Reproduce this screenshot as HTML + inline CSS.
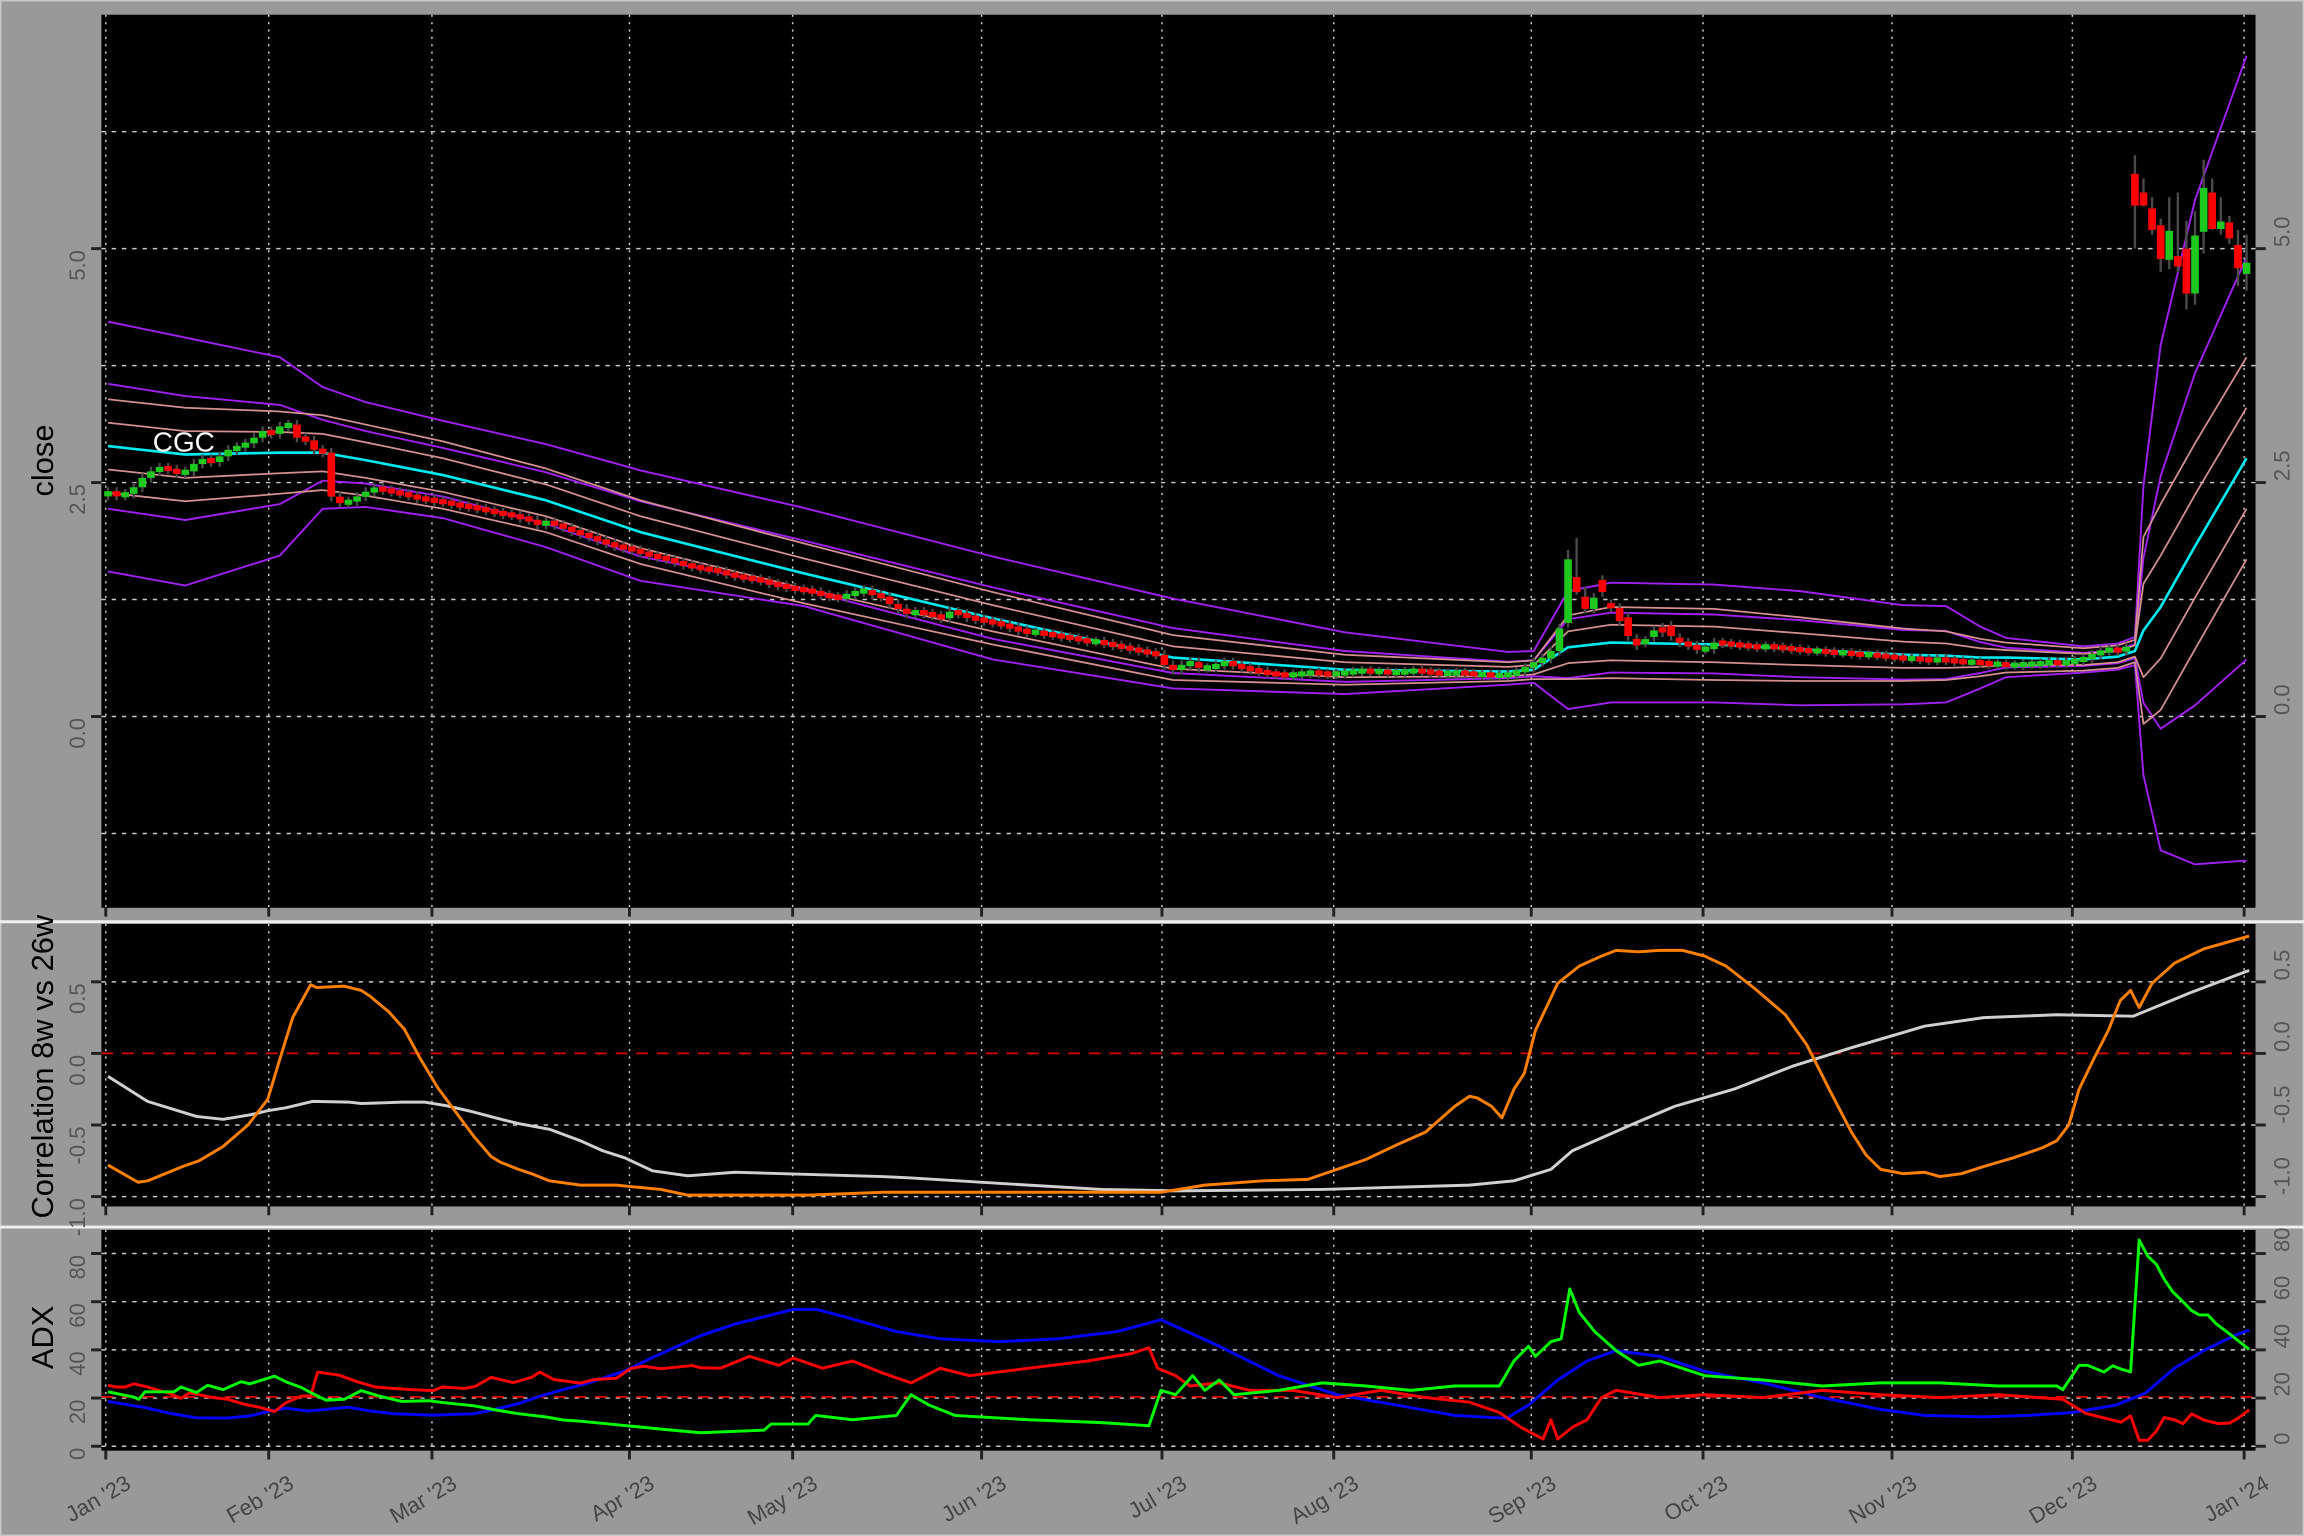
<!DOCTYPE html>
<html><head><meta charset="utf-8"><title>CGC chart</title>
<style>
html,body{margin:0;padding:0;background:#999999;}
svg{display:block;font-family:"Liberation Sans",sans-serif;}
</style></head>
<body>
<svg id="chart" xmlns="http://www.w3.org/2000/svg" width="2304" height="1536" viewBox="0 0 1568 1044" preserveAspectRatio="none">
  <rect x="0" y="0" width="1568" height="1044" fill="#999999"/>
  <rect x="0.5" y="0.5" width="1567" height="1043" fill="none" stroke="#c8c8c8" stroke-width="1"/>
  <defs>
    <clipPath id="clipMain"><rect x="69" y="10" width="1466" height="607"/></clipPath>
    <clipPath id="clipCor"><rect x="69" y="628" width="1466" height="192"/></clipPath>
    <clipPath id="clipAdx"><rect x="69" y="836" width="1466" height="150"/></clipPath>
  </defs>
  <rect x="69" y="10" width="1466" height="607" fill="#000"/>
  <line x1="0" y1="626.5" x2="1568" y2="626.5" stroke="#f0f0f0" stroke-width="2"/>
  <rect x="69" y="628" width="1466" height="192" fill="#000"/>
  <line x1="0" y1="834" x2="1568" y2="834" stroke="#f0f0f0" stroke-width="2"/>
  <rect x="69" y="836" width="1466" height="150" fill="#000"/>
  <g id="gGrid"></g>
  <g id="gMain" clip-path="url(#clipMain)"></g>
  <g id="gCor" clip-path="url(#clipCor)"></g>
  <g id="gAdx" clip-path="url(#clipAdx)"></g>
  <g id="gAxes"></g>
  <text x="104" y="307" fill="#fff" font-size="19">CGC</text>
  <text transform="translate(36,313) rotate(-90)" text-anchor="middle" font-size="21" fill="#000">close</text>
  <text transform="translate(36,725) rotate(-90)" text-anchor="middle" font-size="21" fill="#000">Correlation 8w vs 26w</text>
  <text transform="translate(36,909) rotate(-90)" text-anchor="middle" font-size="21" fill="#000">ADX</text>
</svg>
<script>
// ---------- DATA ----------
const monthTickIdx = [0,20,39,62,81,103,124,144,167,187,209,230,250];
const monthTickLabels = ["Jan '23","Feb '23","Mar '23","Apr '23","May '23","Jun '23","Jul '23","Aug '23","Sep '23","Oct '23","Nov '23","Dec '23","Jan '24"];

const closes = [
2.40,2.36,2.38,2.45, 2.55,2.62,2.66,2.64,2.60, 2.62,2.70,2.75,2.72, 2.78,2.85,2.88,2.92,2.98, 3.05,3.02,
3.10,3.12,2.98, 2.95,2.85,2.82,2.35,2.28, 2.30,2.35,2.40,2.44,2.42, 2.40,2.38,2.36,2.33, 2.32,2.30,
2.29,2.27,2.25, 2.24,2.22,2.20,2.18,2.16, 2.15,2.12,2.10,2.05,2.08, 2.05,2.02,1.98,1.95,1.92, 1.88,1.85,1.82,1.80,1.78,
1.75,1.72,1.70,1.68, 1.65,1.62,1.60,1.58,1.57, 1.55,1.52,1.50,1.48,1.47, 1.45,1.42,1.40,1.38,1.36,
1.35,1.33,1.30,1.28,1.27, 1.30,1.33,1.35,1.30,1.28, 1.20,1.15,1.10,1.12,1.10, 1.08,1.05,1.12,1.10,1.06, 1.04,1.02,
1.00,0.98, 0.95,0.92,0.90,0.90,0.88, 0.87,0.85,0.84,0.82,0.80, 0.80,0.78,0.76,0.74, 0.72,0.70,0.68,0.66,0.55,
0.50, 0.55,0.58,0.52, 0.52,0.55,0.58,0.55,0.52, 0.50,0.48,0.46,0.45,0.44, 0.45,0.46,0.47,0.46,0.45, 0.46,
0.47,0.48,0.49,0.48, 0.48,0.47,0.47,0.48,0.49, 0.48,0.47,0.46,0.46,0.47, 0.46,0.45,0.45,0.44,0.44, 0.45,0.48,0.52,0.58,
0.62, 0.70,0.94,1.68,1.33, 1.15,1.27,1.33,1.17,1.02, 0.86,0.76,0.81,0.92,0.90, 0.86,0.79,0.76,0.72,0.72,
0.79,0.78,0.77,0.76,0.75, 0.74,0.75,0.74,0.73,0.72, 0.71,0.70,0.70,0.69,0.68, 0.68,0.67,0.66,0.66,0.65, 0.64,0.63,
0.62,0.62,0.61, 0.60,0.61,0.60,0.59,0.58, 0.58,0.57,0.56,0.56,0.55, 0.55,0.56,0.56,0.57, 0.58,0.57,0.58,0.60,
0.62, 0.66,0.70,0.72,0.70,0.74, 5.46,5.46,5.20,4.89,5.19, 4.81,4.52,5.14,5.65,5.21, 5.29,5.11,4.79,4.85
];
const openIdx = [170,171,172,174,175,176,177,178,179,180,181,182,183, 236,237,238,239,240,241,242,243,244,245,246,247,248,249];
const openVal = [1.00,1.49,1.28,1.46,1.20,1.16,1.06,0.83,0.79,0.85,0.95,0.97,0.84, 5.80,5.60,5.43,5.25,4.88,4.92,5.00,4.52,5.18,5.60,5.21,5.28,5.04,4.73];
const wickIdx = [170,171,172, 236,237,238,239,240,241,242,243,244,245,246,247,248,249];
const wickHi  = [1.78,1.91,1.39, 6.00,5.75,5.55,5.32,5.55,5.60,5.30,5.40,5.95,5.75,5.55,5.35,5.20,5.15];
const wickLo  = [0.95,1.30,1.10, 5.00,5.45,5.15,4.75,4.78,4.75,4.35,4.40,4.95,5.20,5.15,5.05,4.60,4.55];

const bandIdx    = [0,9,20,25,30,39,51,62,81,103,124,144,163,166,170,175,187,197,209,214,218,221,230,234,236,237,239,243,249];
const bandCenter = [2.89,2.80,2.82,2.82,2.74,2.58,2.31,1.97,1.53,1.05,0.63,0.50,0.48,0.50,0.74,0.79,0.77,0.72,0.66,0.65,0.63,0.63,0.61,0.64,0.70,0.92,1.17,1.82,2.76];
const bandOuter  = [1.33,1.25,1.02,0.70,0.62,0.58,0.60,0.66,0.70,0.66,0.63,0.40,0.21,0.20,0.60,0.64,0.64,0.62,0.53,0.53,0.33,0.21,0.14,0.14,0.15,1.55,2.80,3.70,4.30];
const bandOuterLower = [1.34,1.40,1.10,0.60,0.50,0.46,0.50,0.52,0.35,0.44,0.33,0.26,0.14,0.14,0.66,0.64,0.62,0.60,0.53,0.50,0.33,0.21,0.14,0.14,0.15,1.55,2.60,3.40,4.30];
const bandSd     = [0.25,0.25,0.22,0.20,0.19,0.18,0.17,0.17,0.16,0.14,0.12,0.08,0.05,0.05,0.17,0.19,0.19,0.17,0.14,0.13,0.10,0.08,0.06,0.06,0.06,0.50,0.55,0.55,0.54];

const corrOrangeIdx = [0,3.5,4.6,8.7,10.6,13.4,16.3,18.6,19.9,21.5,23.6,24.3,27.5,29.5,30.5,32.7,34.5,36.3,38.4,40.5,42.6,44.6,45.7,47.8,49.3,51.4,55,59.2,60.8,64.4,67.5,
 73,81.5,90.1,98.6,107.2,122.6,127.7,134.5,139.7,143.1,146.5,150,153.4,156.8,158.5,159.4,161.1,162.3,163.7,164.9,166.2,168.8,171.3,173.9,175.6,178.2,180.7,183.3,185.9,188.4,191.8,195.3,197.8,200.4,203,204.7,206.4,209,211.5,213.3,215.8,218.4,221.8,225.2,226.9,228.3,229.5,231.2,232.9,234.3,235.5,236.5,238,240.6,244,249.3];
const corrOrange = [-0.78,-0.90,-0.89,-0.79,-0.75,-0.65,-0.50,-0.32,-0.06,0.25,0.48,0.46,0.47,0.44,0.40,0.29,0.17,-0.03,-0.24,-0.41,-0.58,-0.72,-0.76,-0.81,-0.84,-0.89,-0.92,-0.92,-0.93,-0.95,-0.99,
 -0.99,-0.99,-0.97,-0.97,-0.97,-0.97,-0.92,-0.89,-0.88,-0.81,-0.74,-0.64,-0.55,-0.37,-0.30,-0.31,-0.37,-0.45,-0.25,-0.14,0.16,0.49,0.61,0.68,0.72,0.71,0.72,0.72,0.68,0.61,0.45,0.27,0.06,-0.25,-0.55,-0.71,-0.81,-0.84,-0.83,-0.86,-0.84,-0.79,-0.73,-0.66,-0.61,-0.50,-0.25,-0.04,0.16,0.37,0.44,0.32,0.49,0.63,0.73,0.82];
const corrWhiteIdx = [0,4.6,10.3,13.4,16.5,18.6,20.7,23.8,28,29.5,32.1,34.2,36.8,39.4,42.6,45.1,47.8,51.4,55,57.6,60.2,63.4,67.5,
 73,90.1,93.5,107.2,115.7,124.3,141.4,158.5,163.7,168,170.5,173.9,177.3,182.4,189.3,196.1,203,208.1,211.5,218.4,226.9,235.8,242.3,249.3];
const corrWhite = [-0.16,-0.335,-0.44,-0.46,-0.43,-0.40,-0.38,-0.335,-0.34,-0.35,-0.345,-0.34,-0.34,-0.365,-0.41,-0.45,-0.49,-0.53,-0.61,-0.68,-0.73,-0.82,-0.855,
 -0.83,-0.86,-0.87,-0.92,-0.95,-0.96,-0.95,-0.92,-0.89,-0.81,-0.68,-0.59,-0.50,-0.37,-0.25,-0.09,0.04,0.13,0.19,0.25,0.27,0.26,0.42,0.58];

const adxBlueIdx = [0,3,4.1,7.2,10.3,13.9,16.5,18.6,20.7,23.3,28,30.6,33.2,37.9,42.6,44.6,47.8,50.3,53,55.6,60.2,63.4,69,
 73,79.8,82.5,85.8,91.8,96.9,103.8,110.6,117.5,122.6,129.4,136.3,143.1,150,156.8,162.8,165.4,168.8,172.2,175.6,180.7,185.9,192.7,199.6,206.4,211.5,218.4,223.5,228.7,233.8,237.2,240.6,244,247.5,249.3];
const adxBlue = [18.6,16.8,16.2,13.7,11.8,11.7,12.6,14.4,15.8,14.6,16.2,14.6,13.5,12.9,13.5,14.9,17.7,20.8,23.5,25.9,31.3,36.8,45.9,
 50.7,56.8,56.8,53.7,47.6,44.6,43.4,44.6,47.6,52.5,41.5,29.3,21.4,17.1,12.8,11.6,17.1,27.5,35.4,39.7,37.3,31.1,26.3,20.2,15.3,12.8,12.2,12.8,14.0,17.1,22.0,32.4,39.7,45.8,48.2];
const adxGreenIdx = [0,3,3.6,4.3,7.7,8.5,10.3,11.6,13.4,15.5,16.5,17.6,19.4,20.7,22.5,23.8,25.4,27.5,29.5,31.6,34.2,37.3,38.9,42.6,45.1,47.8,50.9,53,55,60.2,64.4,69,
 76.4,77.2,81.5,82.4,86.7,91.8,93.5,95.6,98.6,107.2,115.7,121.2,122.6,124.3,126.3,127.7,129.4,131.1,136.3,141.4,146.5,151.7,156.8,162,163.7,165.4,166.2,168,169.2,170.2,171.3,173.1,175.6,178.2,180.7,185.9,192.7,199.6,206.4,213.3,220.1,226.9,227.6,229.5,230.5,232.4,233.4,234.4,235.5,236.5,237.5,238.5,239.4,240.4,241.4,242.6,243.5,244.5,245.5,247,249.3];
const adxGreen = [22.6,20.4,19.5,22.6,22.6,24.6,22.3,25.3,23.5,26.8,25.9,27.1,29.1,26.8,24.4,21.9,19.1,19.5,23.1,20.8,18.6,18.9,18.2,16.8,15.1,13.5,12.2,10.9,10.4,8.6,7.1,5.6,
 6.7,9.2,9.2,12.8,11.0,12.8,21.4,17.1,12.8,11.0,9.8,8.5,23.2,21.4,29.3,23.2,27.5,21.4,23.2,26.3,25.0,23.2,25.0,25.0,35.4,41.5,37.3,43.4,44.6,65.3,55.6,47.6,39.7,33.6,35.4,29.3,27.5,25.0,26.3,26.3,25.0,25.0,23.5,33.6,33.6,30.8,33.4,32.0,30.9,85.6,78.9,75.5,69.4,64.1,60.7,56.3,54.5,54.5,50.7,46.7,40.2];
const adxRedIdx = [0,0.9,2,3,4.6,7.2,8.5,9.5,11.9,13.9,16,17.6,19.4,20.7,22.5,23.6,24.4,26.9,29,31.1,33.2,35.3,37.9,38.9,41.5,42.8,44.6,47.2,49.3,50.3,51.9,55,56.6,59.2,60.8,62.3,64.4,68,69,
 71.3,74.7,78.1,79.8,83.2,86.7,90.1,93.5,96.9,100.3,107.2,114.1,119.2,121.2,122.2,124.3,126,129.4,132.9,137.9,143.1,148.2,153.4,158.5,162,164.5,167.1,168,168.8,170.5,172.2,173.9,175.6,180.7,185.9,192.7,199.6,206.4,213.3,220.1,227.6,230.3,234.4,235.5,236.5,237.5,238.5,239.4,240.6,241.6,242.6,244.1,245.7,247,248,249.3];
const adxRed = [25.3,24.6,24.6,25.9,24.6,21.9,19.9,22.2,20.4,19.5,17.3,16.2,14.4,18.0,20.8,20.8,30.8,29.5,26.8,24.6,24.0,23.5,23.1,24.6,24.0,24.9,28.6,26.4,28.6,30.8,27.7,26.2,27.7,28.2,32.2,33.2,32.2,33.5,32.6,
 32.4,37.3,33.6,36.6,32.4,35.4,30.5,26.3,32.4,29.3,32.4,35.4,38.5,40.9,32.4,29.3,25.0,26.3,23.2,23.2,20.2,23.2,20.2,18.3,14.0,7.9,3.0,11.0,3.0,7.9,11.0,20.2,23.2,20.2,21.4,20.2,23.2,21.4,20.2,21.4,19.5,13.6,10.0,12.6,2.5,2.5,6.3,11.9,11.0,9.4,13.4,10.8,9.4,9.6,11.6,15.1];

// ---------- SCALES ----------
const X0 = 73.5, DX = 5.845;
function xOf(i){ return X0 + i*DX; }
function yMain(v){ return 487 - 63.6*v; }
function yCor(v){ return 716 - 97.3*v; }
function yAdx(v){ return 983 - 1.6375*v; }
function tickX(i){ return i === 0 ? 72 : xOf(i) - 7.5; }

const NS = "http://www.w3.org/2000/svg";
function mk(tag, attrs, parent){
  const el = document.createElementNS(NS, tag);
  for (const k in attrs) el.setAttribute(k, attrs[k]);
  parent.appendChild(el);
  return el;
}
const gGrid = document.getElementById('gGrid');
const gMain = document.getElementById('gMain');
const gCor = document.getElementById('gCor');
const gAdx = document.getElementById('gAdx');
const gAxes = document.getElementById('gAxes');

// ---------- GRID ----------
const mainGridVals = [6.25,5.0,3.75,2.5,1.25,0,-1.25];
const corGridVals = [0.5,-0.5,-1.0];
const adxGridVals = [0,20,40,60,80];
function hgrid(y, x1, x2, name){
  const l = mk('line', {x1:x1, x2:x2, y1:y, y2:y, stroke:'#c8c8c8', 'stroke-width':1, 'stroke-dasharray':'3,4'}, gGrid);
  
  
}
mainGridVals.forEach(v => hgrid(yMain(v), 69, 1535, 'price-gridline'));
corGridVals.forEach(v => hgrid(yCor(v), 69, 1535, 'correlation-gridline'));
adxGridVals.forEach(v => hgrid(yAdx(v), 69, 1535, 'adx-gridline'));
monthTickIdx.forEach(i => {
  const x = tickX(i);
  [[10,617],[628,820],[836,986]].forEach(r => {
    const l = mk('line', {x1:x, x2:x, y1:r[0], y2:r[1], stroke:'#c8c8c8', 'stroke-width':1, 'stroke-dasharray':'1.5,3.5'}, gGrid);
    
    
  });
});
const zeroLine = mk('line', {x1:69, x2:1535, y1:yCor(0), y2:yCor(0), stroke:'#dd0000', 'stroke-width':1.2, 'stroke-dasharray':'8,6'}, gGrid);


const adxRef = mk('line', {x1:69, x2:1535, y1:yAdx(20.5), y2:yAdx(20.5), stroke:'#dd0000', 'stroke-width':1.2, 'stroke-dasharray':'8,6'}, gGrid);



// ---------- BANDS ----------
function polyline(g, idx, vals, yf, color, w, name){
  const pts = idx.map((i,k) => xOf(i).toFixed(2) + ',' + yf(vals[k]).toFixed(2)).join(' ');
  const p = mk('polyline', {points:pts, fill:'none', stroke:color, 'stroke-width':w, 'stroke-linejoin':'round'}, g);
  
  
  return p;
}
const bandDefs = [
  {k:'outer', m:1, c:'#a020f0', w:1.3, n:'band-outer-upper'},
  {k:'outerLow', m:-1, c:'#a020f0', w:1.3, n:'band-outer-lower'},
  {k:'outer', m:0.5, c:'#a020f0', w:1.3, n:'band-inner-upper'},
  {k:'outerLow', m:-0.5, c:'#a020f0', w:1.3, n:'band-inner-lower'},
  {k:'sd', m:2, c:'#d49090', w:1.2, n:'band-sd2-upper'},
  {k:'sd', m:1, c:'#d49090', w:1.2, n:'band-sd1-upper'},
  {k:'sd', m:-1, c:'#d49090', w:1.2, n:'band-sd1-lower'},
  {k:'sd', m:-2, c:'#d49090', w:1.2, n:'band-sd2-lower'}
];
bandDefs.forEach(b => {
  const src = b.k === 'outer' ? bandOuter : (b.k === 'outerLow' ? bandOuterLower : bandSd);
  const vals = bandCenter.map((c,k) => c + b.m*src[k]);
  polyline(gMain, bandIdx, vals, yMain, b.c, b.w, b.n);
});
polyline(gMain, bandIdx, bandCenter, yMain, '#00e8f0', 1.8, 'band-center-line');

// ---------- CANDLES ----------
for (let i = 0; i < closes.length; i++){
  const c = closes[i];
  const oi = openIdx.indexOf(i);
  const o = oi >= 0 ? openVal[oi] : (i > 0 ? closes[i-1] : 2.36);
  const x = xOf(i);
  const wi = wickIdx.indexOf(i);
  const hi = wi >= 0 ? wickHi[wi] : Math.max(o,c) + 0.05;
  const lo = wi >= 0 ? wickLo[wi] : Math.min(o,c) - 0.05;
  const wk = mk('line', {x1:x, x2:x, y1:yMain(hi), y2:yMain(lo), stroke:'#4a4a4a', 'stroke-width':1.6}, gMain);
  
  
  const yt = yMain(Math.max(o,c)), yb = yMain(Math.min(o,c));
  const h = Math.max(yb - yt, 3.5);
  const body = mk('rect', {x:x-2.6, y:(yt+yb)/2 - h/2, width:5.2, height:h, fill: c >= o ? '#1ec81e' : '#ff0000'}, gMain);
  
  
}

// ---------- CORRELATION ----------
polyline(gCor, corrWhiteIdx, corrWhite, yCor, '#d0d0d0', 2, 'correlation-26w-line');
polyline(gCor, corrOrangeIdx, corrOrange, yCor, '#ff8000', 2, 'correlation-8w-line');

// ---------- ADX ----------
polyline(gAdx, adxBlueIdx, adxBlue, yAdx, '#0000ff', 2, 'adx-line');
polyline(gAdx, adxRedIdx, adxRed, yAdx, '#ff0000', 2, 'di-minus-line');
polyline(gAdx, adxGreenIdx, adxGreen, yAdx, '#00ff00', 2, 'di-plus-line');

// ---------- AXES ----------
const mainTickVals = [5.0,2.5,0.0];
const mainTickLabels = ["5.0","2.5","0.0"];
const corTickVals = [0.5,0.0,-0.5,-1.0];
const corTickLabels = ["0.5","0.0","-0.5","-1.0"];
const adxTickVals = [80,60,40,20,0];
const adxTickLabels = ["80","60","40","20","0"];
function yAxis(vals, labels, yf, name){
  vals.forEach((v,k) => {
    const y = yf(v);
    const lt = mk('line', {x1:62, x2:69, y1:y, y2:y, stroke:'#222', 'stroke-width':2}, gAxes);
    
    
    const rt = mk('line', {x1:1535, x2:1542, y1:y, y2:y, stroke:'#222', 'stroke-width':2}, gAxes);
    
    
    const tl = mk('text', {transform:'translate(58,' + (y+1) + ') rotate(-90)', 'text-anchor':'end', 'font-size':15, fill:'#555'}, gAxes);
    tl.textContent = labels[k];
    
    
    const tr = mk('text', {transform:'translate(1558,' + (y-1) + ') rotate(-90)', 'text-anchor':'start', 'font-size':15, fill:'#555'}, gAxes);
    tr.textContent = labels[k];
    
    
  });
}
yAxis(mainTickVals, mainTickLabels, yMain, 'price-axis');
yAxis(corTickVals, corTickLabels, yCor, 'correlation-axis');
yAxis(adxTickVals, adxTickLabels, yAdx, 'adx-axis');

monthTickIdx.forEach((i,k) => {
  const x = tickX(i);
  [[617,623],[820,826],[986,992]].forEach(r => {
    const t = mk('line', {x1:x, x2:x, y1:r[0], y2:r[1], stroke:'#222', 'stroke-width':2}, gAxes);
    
    
  });
  const lab = mk('text', {transform:'translate(' + (x+18) + ',1011) rotate(-30)', 'text-anchor':'end', 'font-size':15, fill:'#444'}, gAxes);
  lab.textContent = monthTickLabels[k];
  
  
});
</script>
</body></html>
